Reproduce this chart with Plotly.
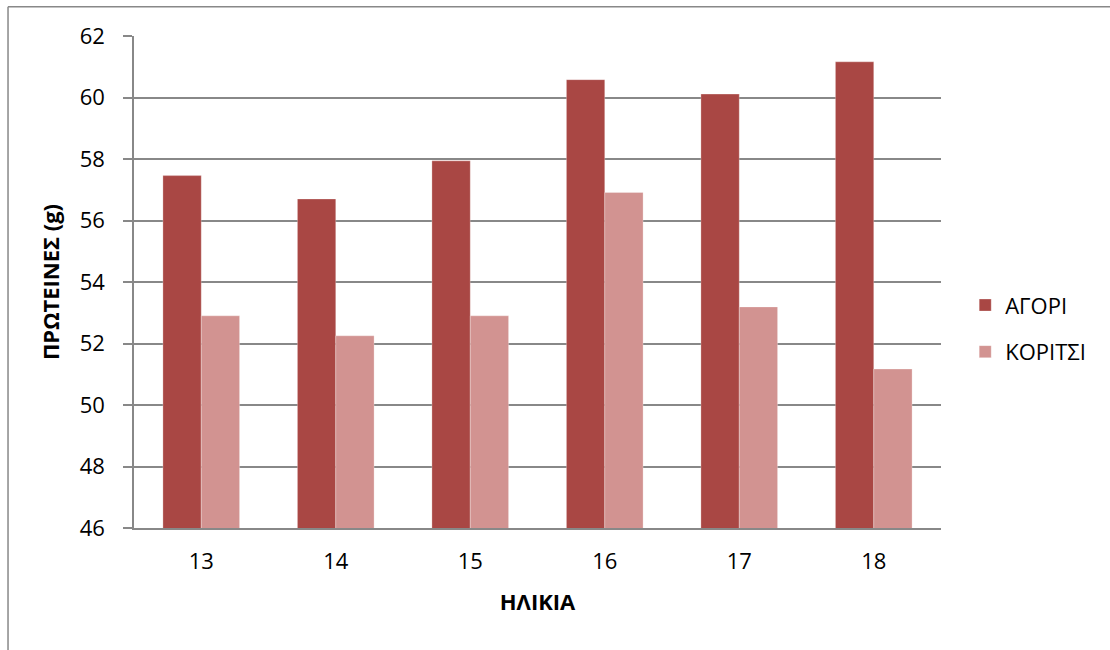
import plotly.graph_objects as go

ages = ["13", "14", "15", "16", "17", "18"]
boys = [57.46, 56.70, 57.94, 60.58, 60.11, 61.16]
girls = [52.90, 52.25, 52.90, 56.91, 53.19, 51.17]
y_ticks = [46, 48, 50, 52, 54, 56, 58, 60, 62]

series_names = ["ΑΓΟΡΙ", "ΚΟΡΙΤΣΙ"]
colors = ["#A94744", "#D29391"]

FONT = "Open Sans"
FS = 22

fig = go.Figure()
for name, vals, col, grp in zip(series_names, [boys, girls], colors, ["a", "b"]):
    fig.add_trace(go.Bar(
        x=ages, y=vals, name=name, legendgroup=grp,
        marker=dict(color=col, line=dict(color="rgba(255,255,255,0.35)", width=0.8)),
    ))

fig.update_layout(
    width=1110, height=650,
    margin=dict(l=134, r=169, t=36, b=122, autoexpand=False),
    paper_bgcolor="white", plot_bgcolor="white",
    barmode="group", bargap=0.43, bargroupgap=0,
    font=dict(family=FONT, size=FS, color="#000000"),
    showlegend=True,
    legend=dict(
        x=1.03, y=0.405, xanchor="left", yanchor="middle",
        font=dict(family=FONT, size=FS, color="#000000"),
        traceorder="grouped", tracegroupgap=15,
        bgcolor="rgba(0,0,0,0)",
    ),
    xaxis=dict(
        type="category", showline=True, linecolor="#888888", linewidth=1.5,
        ticks="", showgrid=False, ticklabelstandoff=13,
        title=dict(text="<b>ΗΛΙΚΙΑ</b>", font=dict(family=FONT, size=FS), standoff=20),
        automargin=False,
    ),
    yaxis=dict(
        range=[46, 62], tickvals=y_ticks, ticktext=[str(v) for v in y_ticks],
        showline=True, linecolor="#888888", linewidth=1.5,
        ticks="outside", ticklen=9, tickcolor="#888888", tickwidth=1.5,
        showgrid=True, gridcolor="#888888", gridwidth=1.5,
        zeroline=False, ticklabelstandoff=14,
        title=dict(text="<b>ΠΡΩΤΕΙΝΕΣ (g)</b>", font=dict(family=FONT, size=FS), standoff=14),
        automargin=False,
    ),
    shapes=[
        dict(type="line", xref="paper", yref="paper", x0=-0.1561, x1=1.3, y0=1.0597, y1=1.0597,
             line=dict(color="#888888", width=1.5)),
        dict(type="line", xref="paper", yref="paper", x0=-0.1561, x1=-0.1561, y0=1.0597, y1=-0.3,
             line=dict(color="#888888", width=1.5)),
    ],
)

fig.write_html("out.html")
